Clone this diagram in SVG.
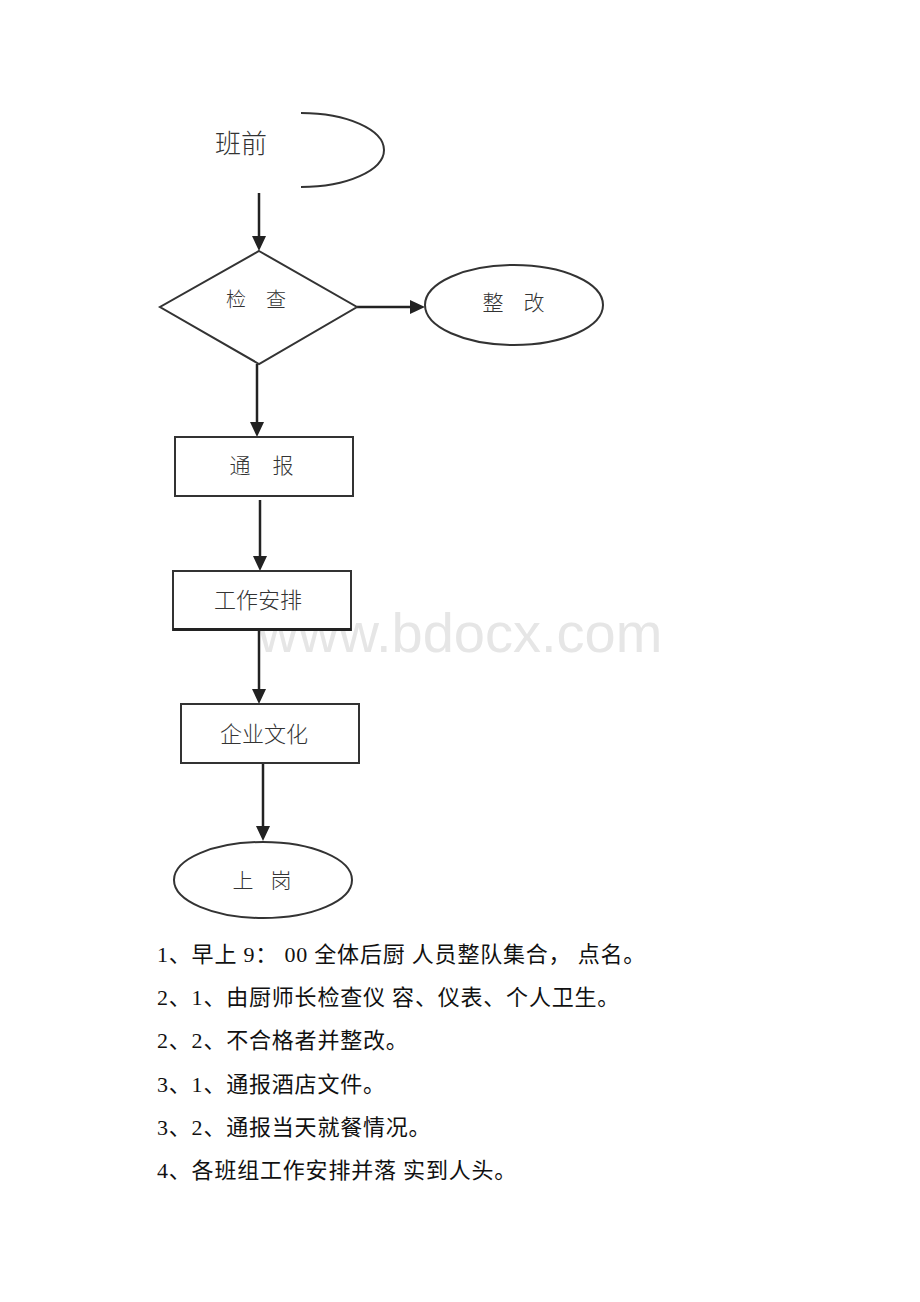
<svg xmlns="http://www.w3.org/2000/svg" width="920" height="1302" viewBox="0 0 920 1302">
<style>
.s{fill:none;stroke:#333;stroke-width:2}
.n{fill:#fff;stroke:#333;stroke-width:2}
.t{font-family:"Liberation Serif","Noto Sans CJK SC",serif;fill:#333;text-anchor:middle;font-weight:300}
.p{font-family:"Liberation Serif","Noto Sans CJK SC",serif;font-size:22px;fill:#111;letter-spacing:0.8px}
</style>
<rect width="920" height="1302" fill="#fff"/>
<text x="460" y="652" font-family="Liberation Sans, Arial, sans-serif" font-size="56" fill="#e6e6e6" text-anchor="middle">www.bdocx.com</text>
<g id="connectors" stroke="#222" stroke-width="2.5">
<line x1="259" y1="193" x2="259" y2="236"/><path d="M252,236 L266,236 L259,251 Z" fill="#222" stroke="none"/>
<line x1="357" y1="307" x2="410" y2="307"/><path d="M410,300 L410,314 L425,307 Z" fill="#222" stroke="none"/>
<line x1="257" y1="364" x2="257" y2="422"/><path d="M250,422 L264,422 L257,437 Z" fill="#222" stroke="none"/>
<line x1="260" y1="500" x2="260" y2="556"/><path d="M253,556 L267,556 L260,571 Z" fill="#222" stroke="none"/>
<line x1="259" y1="630" x2="259" y2="689"/><path d="M252,689 L266,689 L259,704 Z" fill="#222" stroke="none"/>
<line x1="263" y1="763" x2="263" y2="826"/><path d="M256,826 L270,826 L263,841 Z" fill="#222" stroke="none"/>
</g>
<g id="banqian">
<path class="s" d="M301,113 A83,37 0 0 1 301,187"/>
<text class="t" x="241" y="153" font-size="26">班前</text>
</g>
<g id="jiancha">
<polygon class="n" points="259,251 357,307 259,364 160,307"/>
<text class="t" x="236" y="307" font-size="20">检</text>
<text class="t" x="276" y="307" font-size="20">查</text>
</g>
<g id="zhenggai">
<ellipse class="n" cx="514" cy="305" rx="89" ry="40"/>
<text class="t" x="493" y="310" font-size="21">整</text>
<text class="t" x="534" y="310" font-size="21">改</text>
</g>
<g id="tongbao">
<rect class="n" x="175" y="437" width="178" height="59"/>
<text class="t" x="240" y="473" font-size="21">通</text>
<text class="t" x="283" y="473" font-size="21">报</text>
</g>
<g id="gongzuo">
<rect class="n" x="173" y="571" width="178" height="59"/>
<line x1="173" y1="629.5" x2="351" y2="629.5" stroke="#222" stroke-width="3"/>
<text class="t" x="258" y="608" font-size="22">工作安排</text>
</g>
<g id="qiye">
<rect class="n" x="181" y="704" width="178" height="59"/>
<text class="t" x="264" y="742" font-size="22">企业文化</text>
</g>
<g id="shanggang">
<ellipse class="n" cx="263" cy="880" rx="89" ry="38"/>
<text class="t" x="243" y="888" font-size="21">上</text>
<text class="t" x="281" y="888" font-size="21">岗</text>
</g>
<g id="notes">
<text class="p" x="157" y="962" xml:space="preserve">1、早上 9： 00 全体后厨 人员整队集合， 点名。</text>
<text class="p" x="157" y="1005" xml:space="preserve">2、1、由厨师长检查仪 容、仪表、个人卫生。</text>
<text class="p" x="157" y="1048">2、2、不合格者并整改。</text>
<text class="p" x="157" y="1092">3、1、通报酒店文件。</text>
<text class="p" x="157" y="1135">3、2、通报当天就餐情况。</text>
<text class="p" x="157" y="1178" xml:space="preserve">4、各班组工作安排并落 实到人头。</text>
</g>
</svg>
